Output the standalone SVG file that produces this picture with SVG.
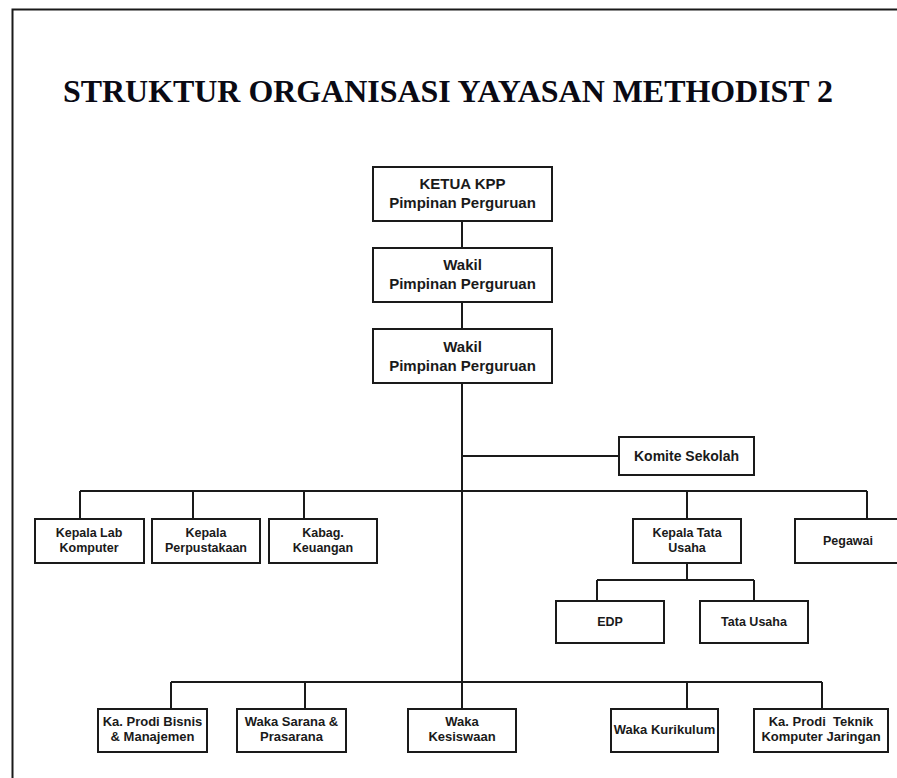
<svg xmlns="http://www.w3.org/2000/svg" width="897" height="778" viewBox="0 0 897 778">
<style>
.box{fill:#fff;stroke:#1a1a1a;stroke-width:2}
.ln{stroke:#1a1a1a;stroke-width:2;fill:none}
.t{font-family:"Liberation Sans",Arial,sans-serif;font-weight:bold;fill:#1a1a1a;text-anchor:middle}
.t15{font-size:15px}
.t14{font-size:14px}
.t12{font-size:12.5px}
.t13{font-size:13px}
</style>
<rect width="897" height="778" fill="#fff"/>
<path class="ln" d="M12.5 778 V9.5 H897"/>
<text x="63" y="102" font-family="'Liberation Serif','Times New Roman',serif" font-weight="bold" font-size="31" textLength="770" lengthAdjust="spacingAndGlyphs" fill="#0a0a14">STRUKTUR ORGANISASI YAYASAN METHODIST 2</text>
<g id="connectors">
<path class="ln" d="M462 221 V248 M462 302 V329 M462 383 V709"/>
<path class="ln" d="M462 456 H619"/>
<path class="ln" d="M80 491 H867 M80 491 V519 M193 491 V519 M304 491 V519 M687 491 V519 M867 491 V519"/>
<path class="ln" d="M687 563 V580 M597 580 H754 M597 580 V601 M754 580 V601"/>
<path class="ln" d="M171 682 H822 M171 682 V709 M305 682 V709 M687 682 V709 M822 682 V709"/>
</g>
<g id="ketua"><rect class="box" x="373" y="167" width="179" height="54"/><text class="t t15" x="462.5" y="189">KETUA KPP</text><text class="t t15" x="462.5" y="208">Pimpinan Perguruan</text></g>
<g id="wakil1"><rect class="box" x="373" y="248" width="179" height="54"/><text class="t t15" x="462.5" y="270">Wakil</text><text class="t t15" x="462.5" y="289">Pimpinan Perguruan</text></g>
<g id="wakil2"><rect class="box" x="373" y="329" width="179" height="54"/><text class="t t15" x="462.5" y="352">Wakil</text><text class="t t15" x="462.5" y="371">Pimpinan Perguruan</text></g>
<g id="komite"><rect class="box" x="619" y="437" width="135" height="38"/><text class="t t14" x="686.5" y="461">Komite Sekolah</text></g>
<g id="lab"><rect class="box" x="35" y="519" width="109" height="44"/><text class="t t12" x="89" y="537">Kepala Lab</text><text class="t t12" x="89" y="552">Komputer</text></g>
<g id="perpus"><rect class="box" x="152" y="519" width="108" height="44"/><text class="t t12" x="206" y="537">Kepala</text><text class="t t12" x="206" y="552">Perpustakaan</text></g>
<g id="kabag"><rect class="box" x="269" y="519" width="108" height="44"/><text class="t t12" x="323" y="537">Kabag.</text><text class="t t12" x="323" y="552">Keuangan</text></g>
<g id="kepalaTU"><rect class="box" x="633" y="519" width="108" height="44"/><text class="t t12" x="687" y="537">Kepala Tata</text><text class="t t12" x="687" y="552">Usaha</text></g>
<g id="pegawai"><rect class="box" x="795" y="519" width="108" height="44"/><text class="t t12" x="848" y="545">Pegawai</text></g>
<g id="edp"><rect class="box" x="556" y="601" width="108" height="42"/><text class="t t12" x="610" y="626">EDP</text></g>
<g id="tatausaha"><rect class="box" x="700" y="601" width="108" height="42"/><text class="t t12" x="754" y="626">Tata Usaha</text></g>
<g id="prodiBisnis"><rect class="box" x="98" y="709" width="109" height="43"/><text class="t t13" x="152.5" y="726">Ka. Prodi Bisnis</text><text class="t t13" x="152.5" y="741">&amp; Manajemen</text></g>
<g id="sarana"><rect class="box" x="237" y="709" width="109" height="43"/><text class="t t13" x="291.5" y="726">Waka Sarana &amp;</text><text class="t t13" x="291.5" y="741">Prasarana</text></g>
<g id="kesiswaan"><rect class="box" x="408" y="709" width="108" height="43"/><text class="t t13" x="462" y="726">Waka</text><text class="t t13" x="462" y="741">Kesiswaan</text></g>
<g id="kurikulum"><rect class="box" x="611" y="709" width="107" height="43"/><text class="t t13" x="664.5" y="734">Waka Kurikulum</text></g>
<g id="teknik"><rect class="box" x="754" y="709" width="134" height="43"/><text class="t t13" x="821" y="726" xml:space="preserve">Ka. Prodi  Teknik</text><text class="t t13" x="821" y="741">Komputer Jaringan</text></g>
</svg>
